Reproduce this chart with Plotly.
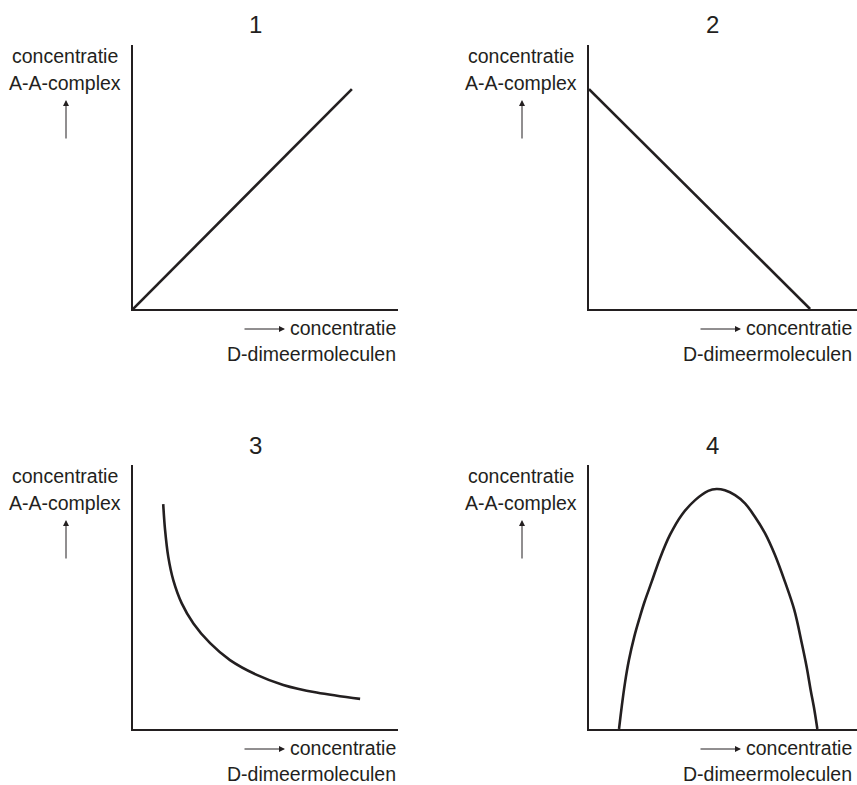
import plotly.graph_objects as go

W, H = 857, 785
INK = "#231f20"
FONT = "Liberation Sans, Arial, sans-serif"

# curve data, in axis units (0-100 on both axes)
p1_x = [0, 82.6]
p1_y = [0, 83.3]

p2_x = [0, 82.5]
p2_y = [83.3, 0]

p3_x = [11.4, 12.1, 13.3, 15.2, 18.4, 22.8, 29.1, 36.6, 46.7, 56.7, 69.3, 85.7]
p3_y = [85.2, 75.4, 65.3, 56.4, 47.6, 40.0, 32.5, 26.1, 20.5, 16.7, 13.8, 11.4]

p4_x = [11.2, 12.2, 13.4, 14.9, 16.9, 19.0, 20.7, 23.4, 26.5, 30.2, 34.6, 39.6,
        44.5, 47.6, 50.7, 54.5, 58.2, 61.9, 65.7, 69.4, 73.1, 76.6, 79.4, 81.2,
        82.7, 84.1, 85.2]
p4_y = [0, 8.4, 17.3, 26.1, 35.0, 42.5, 48.1, 55.8, 64.7, 73.5, 81.1, 86.7,
        90.2, 90.9, 90.4, 88.6, 85.5, 80.4, 74.1, 65.9, 55.8, 45.1, 32.5, 23.6,
        14.8, 7.2, 0]

titles = ["1", "2", "3", "4"]
y_label = ["concentratie", "A-A-complex"]
x_label = ["concentratie", "D-dimeermoleculen"]


def px_x(v):
    return v / W


def px_y(v):
    return 1 - v / H


# panel boxes in pixels: (left, right, top, bottom)
panels = [
    (133, 398, 45, 309),
    (589, 857, 45, 309),
    (133, 398, 465, 729),
    (589, 857, 465, 729),
]
curves = [(p1_x, p1_y, "linear"), (p2_x, p2_y, "linear"),
          (p3_x, p3_y, "spline"), (p4_x, p4_y, "spline")]

fig = go.Figure()
layout = {}
annotations = []

for i, ((left, right, top, bottom), (cx, cy, shape)) in enumerate(zip(panels, curves)):
    n = "" if i == 0 else str(i + 1)
    fig.add_trace(go.Scatter(
        x=cx, y=cy, mode="lines", xaxis="x" + n, yaxis="y" + n,
        line=dict(color=INK, width=2.6, shape=shape, smoothing=1.0),
        showlegend=False, hoverinfo="skip",
    ))
    axis_common = dict(range=[0, 100], showgrid=False, zeroline=False,
                       showticklabels=False, ticks="", showline=True,
                       linecolor=INK, linewidth=1.6, fixedrange=True)
    layout["xaxis" + n] = dict(domain=[px_x(left), px_x(right)],
                               anchor="y" + n, **axis_common)
    layout["yaxis" + n] = dict(domain=[px_y(bottom), px_y(top)],
                               anchor="x" + n, **axis_common)

    # offsets relative to panel
    dy = top - 45
    ylab_cx = left - 68
    title_cx = left + 123

    annotations.append(dict(
        text=titles[i], x=px_x(title_cx), y=px_y(25 + dy),
        xref="paper", yref="paper", showarrow=False,
        xanchor="center", yanchor="middle",
        font=dict(family=FONT, size=24, color=INK)))

    annotations.append(dict(
        text=y_label[0], x=px_x(ylab_cx), y=px_y(56 + dy),
        xref="paper", yref="paper", showarrow=False,
        xanchor="center", yanchor="middle",
        font=dict(family=FONT, size=19.5, color=INK)))
    annotations.append(dict(
        text=y_label[1], x=px_x(ylab_cx), y=px_y(83 + dy),
        xref="paper", yref="paper", showarrow=False,
        xanchor="center", yanchor="middle",
        font=dict(family=FONT, size=19.5, color=INK)))
    # upward arrow under the y label
    annotations.append(dict(
        text="", x=px_x(ylab_cx + 1), y=px_y(100 + dy),
        xref="paper", yref="paper", showarrow=True,
        ax=0, ay=40, arrowhead=2, arrowsize=1.2, arrowwidth=1,
        arrowcolor=INK))

    right_edge = left + 265 if i % 2 == 0 else 854
    annotations.append(dict(
        text=x_label[0], x=px_x(right_edge), y=px_y(328 + dy),
        xref="paper", yref="paper", showarrow=False,
        xanchor="right", yanchor="middle",
        font=dict(family=FONT, size=19.5, color=INK)))
    annotations.append(dict(
        text=x_label[1], x=px_x(right_edge), y=px_y(354 + dy),
        xref="paper", yref="paper", showarrow=False,
        xanchor="right", yanchor="middle",
        font=dict(family=FONT, size=19.5, color=INK)))
    # rightward arrow in front of the x label
    annotations.append(dict(
        text="", x=px_x(right_edge - 113), y=px_y(329 + dy),
        xref="paper", yref="paper", showarrow=True,
        ax=-42, ay=0, arrowhead=2, arrowsize=1.2, arrowwidth=1,
        arrowcolor=INK))

fig.update_layout(
    width=W, height=H,
    margin=dict(l=0, r=0, t=0, b=0),
    paper_bgcolor="white", plot_bgcolor="white",
    annotations=annotations,
    **layout,
)

fig.write_html("out.html", config={"displayModeBar": False},
               post_script="document.body.style.margin='0';")
